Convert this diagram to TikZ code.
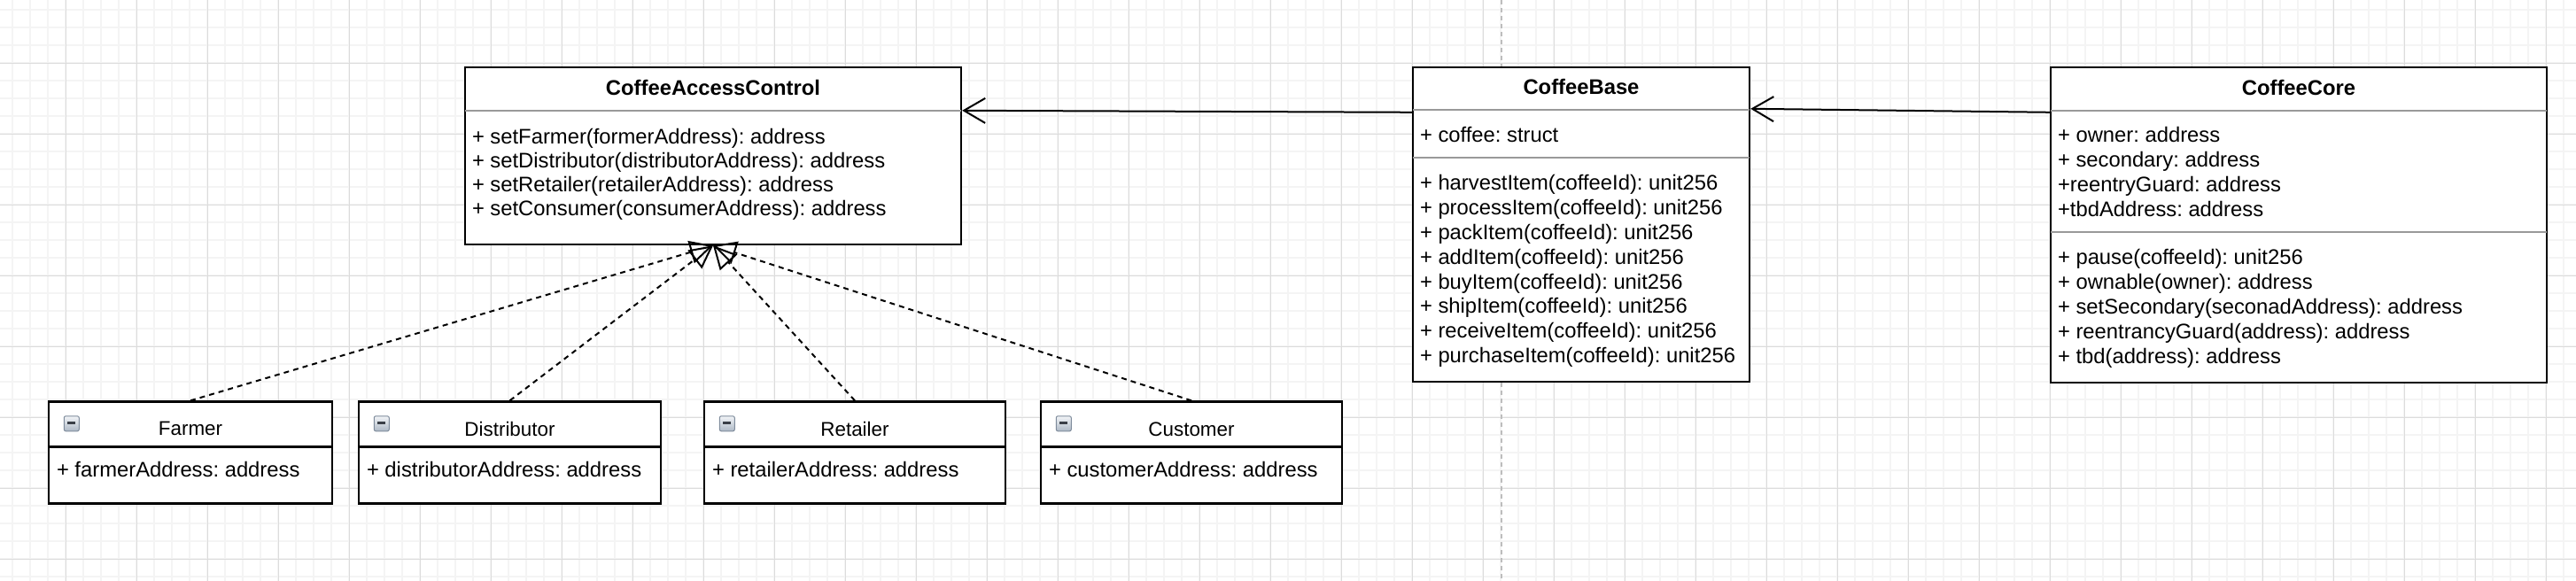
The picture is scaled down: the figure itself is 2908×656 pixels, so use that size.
\documentclass[tikz,border=0pt]{standalone}
\usepackage{fontspec}
\setmainfont[Ligatures=NoCommon]{Liberation Sans}
\usepackage{tikz}
\usetikzlibrary{positioning, arrows.meta, calc}
\definecolor{splitgray}{HTML}{999999}
\definecolor{gridminor}{HTML}{F4F4F4}
\definecolor{gridmajor}{HTML}{DCDCDC}
\definecolor{pagebreak}{HTML}{BDBDBD}
\definecolor{iconframe}{HTML}{7F8C9C}
\definecolor{icontop}{HTML}{F2F4F7}
\definecolor{iconbottom}{HTML}{AEB9C6}
\definecolor{icondash}{HTML}{3A3F47}
\newcommand\umltitle{\fontsize{23.8pt}{28pt}\selectfont\bfseries}
\newcommand\umlsmalltitle{\fontsize{22.4pt}{26pt}\selectfont}
\newcommand\umlmembers{\fontsize{23.8pt}{27.9pt}\selectfont}
\newcommand\umlcacmembers{\fontsize{23.8pt}{27pt}\selectfont}
\frenchspacing

\begin{document}
\begin{tikzpicture}[x=1pt, y=-1pt, on grid,
    classbox/.style={draw, line width=2.4pt, fill=white, inner sep=0pt},
    classtitle/.style={font=\umltitle, inner sep=0pt},
    smalltitle/.style={font=\umlsmalltitle, inner sep=0pt},
    members/.style={font=\umlmembers, align=left, inner sep=0pt},
    splitline/.style={splitgray, line width=2pt},
    smallsplit/.style={line width=2.4pt},
    inherit/.style={-{Straight Barb[length=24pt, width=28pt]}, line width=2pt},
    realize/.style={-{Triangle[open, length=26pt, width=26pt]}, line width=2pt, dash pattern=on 6pt off 5pt},
    collapsebox/.style={draw=iconframe, top color=icontop, bottom color=iconbottom, rounded corners=2pt,
      minimum size=17pt, inner sep=0pt, line width=1pt,
      path picture={\draw[line width=2.4pt, icondash] ([xshift=-4.5pt, yshift=1pt]path picture bounding box.center) -- ([xshift=4.5pt, yshift=1pt]path picture bounding box.center);}}]
    \useasboundingbox (0,0) rectangle (2908,656);
    \fill[white] (0,0) rectangle (2908,656);
    % background grid
    \foreach \gx in {14,34,...,2894} \draw[gridminor, line width=2pt] (\gx,0) -- (\gx,656);
    \foreach \gy in {11,31,...,651} \draw[gridminor, line width=2pt] (0,\gy) -- (2908,\gy);
    \foreach \gx in {74,154,...,2874} \draw[gridmajor, line width=1pt] (\gx,0) -- (\gx,656);
    \foreach \gy in {71,151,...,631} \draw[gridmajor, line width=1pt] (0,\gy) -- (2908,\gy);
    \draw[pagebreak, line width=1.3pt, dash pattern=on 5pt off 4pt] (1695,0) -- (1695,656);

    % classes
    \node[classbox, minimum width=560pt, minimum height=200pt] (cac) at (805,176) {};
    \node[classbox, minimum width=380pt, minimum height=355pt] (base) [right=980pt of cac.north, anchor=north] {};
    \node[classbox, minimum width=560pt, minimum height=356pt] (core) [right=810pt of base.north, anchor=north] {};

    \node[classtitle] (cactitle) [below=15pt of cac.north] {CoffeeAccessControl};
    \node[classtitle] (basetitle) [below=14pt of base.north] {CoffeeBase};
    \node[classtitle] (coretitle) [below=15pt of core.north] {CoffeeCore};

    \draw[splitline] ([shift={(1.2pt,-50pt)}]cac.north west) -- ([shift={(-1.2pt,-50pt)}]cac.north east);
    \draw[splitline] ([shift={(1.2pt,-49pt)}]base.north west) -- ([shift={(-1.2pt,-49pt)}]base.north east);
    \draw[splitline] ([shift={(1.2pt,-103pt)}]base.north west) -- ([shift={(-1.2pt,-103pt)}]base.north east);
    \draw[splitline] ([shift={(1.2pt,-50pt)}]core.north west) -- ([shift={(-1.2pt,-50pt)}]core.north east);
    \draw[splitline] ([shift={(1.2pt,-187pt)}]core.north west) -- ([shift={(-1.2pt,-187pt)}]core.north east);

    \node[members, font=\umlcacmembers] (cacmethods) [below right=70.2pt and 9pt of cac.north west, anchor=north west]
      {+ setFarmer(formerAddress): address\\+ setDistributor(distributorAddress): address\\+ setRetailer(retailerAddress): address\\+ setConsumer(consumerAddress): address};
    \node[members] (basefields) [below right=68.2pt and 9pt of base.north west, anchor=north west] {+ coffee: struct};
    \node[members] (basemethods) [below right=122.2pt and 9pt of base.north west, anchor=north west]
      {+ harvestItem(coffeeId): unit256\\+ processItem(coffeeId): unit256\\+ packItem(coffeeId): unit256\\+ addItem(coffeeId): unit256\\+ buyItem(coffeeId): unit256\\+ shipItem(coffeeId): unit256\\+ receiveItem(coffeeId): unit256\\+ purchaseItem(coffeeId): unit256};
    \node[members] (corefields) [below right=68.2pt and 9pt of core.north west, anchor=north west]
      {+ owner: address\\+ secondary: address\\+reentryGuard: address\\+tbdAddress: address};
    \node[members] (coremethods) [below right=206.2pt and 9pt of core.north west, anchor=north west]
      {+ pause(coffeeId): unit256\\+ ownable(owner): address\\+ setSecondary(seconadAddress): address\\+ reentrancyGuard(address): address\\+ tbd(address): address};

    % roles
    \node[classbox, minimum width=320pt, minimum height=115pt] (farmer) at (215,511) {};
    \node[classbox, minimum width=341pt, minimum height=115pt] (distributor) [right=360.5pt of farmer] {};
    \node[classbox, minimum width=340pt, minimum height=115pt] (retailer) [right=389.5pt of distributor] {};
    \node[classbox, minimum width=340pt, minimum height=115pt] (customer) [right=380pt of retailer] {};

    \node[smalltitle] (farmertitle) [below=24pt of farmer.north] {Farmer};
    \node[smalltitle] (distributortitle) [below=24pt of distributor.north] {Distributor};
    \node[smalltitle] (retailertitle) [below=24pt of retailer.north] {Retailer};
    \node[smalltitle] (customertitle) [below=24pt of customer.north] {Customer};

    \node[collapsebox] (farmericon) [below right=17pt and 18pt of farmer.north west] {};
    \node[collapsebox] (distributoricon) [below right=17pt and 18pt of distributor.north west] {};
    \node[collapsebox] (retailericon) [below right=17pt and 18pt of retailer.north west] {};
    \node[collapsebox] (customericon) [below right=17pt and 18pt of customer.north west] {};

    \draw[smallsplit] ([yshift=-52pt]farmer.north west) -- ([yshift=-52pt]farmer.north east);
    \draw[smallsplit] ([yshift=-52pt]distributor.north west) -- ([yshift=-52pt]distributor.north east);
    \draw[smallsplit] ([yshift=-52pt]retailer.north west) -- ([yshift=-52pt]retailer.north east);
    \draw[smallsplit] ([yshift=-52pt]customer.north west) -- ([yshift=-52pt]customer.north east);

    \node[members] (farmerfields) [below right=69pt and 10pt of farmer.north west, anchor=north west] {+ farmerAddress: address};
    \node[members] (distributorfields) [below right=69pt and 10pt of distributor.north west, anchor=north west] {+ distributorAddress: address};
    \node[members] (retailerfields) [below right=69pt and 10pt of retailer.north west, anchor=north west] {+ retailerAddress: address};
    \node[members] (customerfields) [below right=69pt and 10pt of customer.north west, anchor=north west] {+ customerAddress: address};

    \path[realize]
      (farmer.north) edge (cac.south)
      (distributor.north) edge (cac.south)
      (retailer.north) edge (cac.south)
      (customer.north) edge (cac.south);
    \path[inherit]
      ([yshift=-52pt]core.north west) edge ([yshift=-48pt]base.north east)
      ([yshift=-52pt]base.north west) edge ([yshift=-50pt]cac.north east);
\end{tikzpicture}
\end{document}
